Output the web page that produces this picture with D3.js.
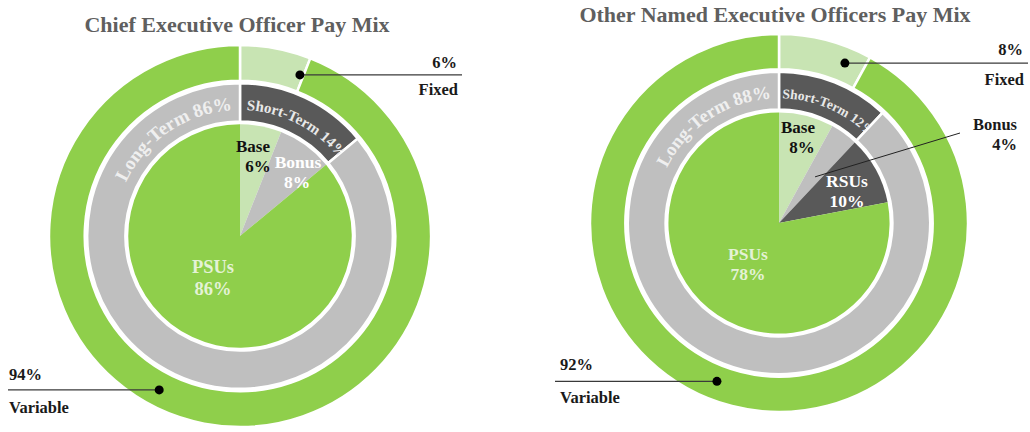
<!DOCTYPE html>
<html>
<head>
<meta charset="utf-8">
<script src="https://cdn.jsdelivr.net/npm/d3@7"></script>
<style>
  html, body { margin: 0; padding: 0; background: #ffffff; }
  svg { display: block; }
</style>
</head>
<body>
<svg id="chart" width="1030" height="432" font-family="'Liberation Serif', 'Times New Roman', 'DejaVu Serif', serif" font-weight="bold"></svg>
<script>
// ---------- DATA ----------
const chartTitles = ["Chief Executive Officer Pay Mix", "Other Named Executive Officers Pay Mix"];

const outerCategories = ["Fixed", "Variable"];
const ceoOuterValues = [6, 94];
const neoOuterValues = [8, 92];

const midCategories = ["Short-Term", "Long-Term"];
const ceoMidValues = [14, 86];
const neoMidValues = [12, 88];

const ceoInnerCategories = ["Base", "Bonus", "PSUs"];
const ceoInnerValues = [6, 8, 86];
const neoInnerCategories = ["Base", "Bonus", "RSUs", "PSUs"];
const neoInnerValues = [8, 4, 10, 78];

// ---------- STYLE ----------
const FONT = "'Liberation Serif', 'Times New Roman', 'DejaVu Serif', serif";
const colors = {
  "Fixed": "#c8e4b3", "Variable": "#8fcf4b",
  "Short-Term": "#595959", "Long-Term": "#bfbfbf",
  "Base": "#c8e4b3", "Bonus": "#bfbfbf", "RSUs": "#595959", "PSUs": "#8fcf4b"
};
const innerLabelColor = { "Base": "#111111", "Bonus": "#ffffff", "RSUs": "#ffffff", "PSUs": "#e4f2d6" };

const svg = d3.select("#chart");
const pie = d3.pie().sort(null).value(d => d);
const fmt = v => v + "%";
const rad = a => a * Math.PI / 180;

function polar(cx, cy, r, deg) {
  return [cx + r * Math.sin(rad(deg)), cy - r * Math.cos(rad(deg))];
}
function txt(sel) {
  return sel.append("text").attr("font-family", FONT).attr("font-weight", "bold");
}

const layouts = [
  {
    cx: 240, cy: 236, R: 191, titleX: 237, titleY: 32,
    outer: ceoOuterValues, mid: ceoMidValues,
    innerCats: ceoInnerCategories, inner: ceoInnerValues,
    midFont: [15, 19], midStart: 3,
    innerLabelPos: { "Base": [[13, -84], [18, -64]], "Bonus": [[58, -68], [57, -48]], "PSUs": [[-27, 37], [-27, 59]] },
    innerFont: { "Base": 17, "Bonus": 17.5, "PSUs": 18.5 },
    innerLabelSkip: [],
    fixed: { dot: [20.4, 0.9], lineEnd: 462, textX: 457, pctY: 68, nameY: 95 },
    variable: { dot: [207.7, 0.91], lineStart: 8, textX: 9, pctY: 380, nameY: 413 }
  },
  {
    cx: 779, cy: 223, R: 189, titleX: 775, titleY: 22,
    outer: neoOuterValues, mid: neoMidValues,
    innerCats: neoInnerCategories, inner: neoInnerValues,
    midFont: [13.5, 18.5], midStart: 1.5,
    innerLabelPos: { "Base": [[19, -90], [23, -70]], "RSUs": [[68, -36], [68, -16]], "PSUs": [[-31, 37], [-31, 57]] },
    innerFont: { "Base": 17, "RSUs": 17.5, "PSUs": 17.5 },
    innerLabelSkip: ["Bonus"],
    fixed: { dot: [22.4, 0.915], lineEnd: 1028, textX: 1023, pctY: 55, nameY: 85 },
    variable: { dot: [201.4, 0.9], lineStart: 555, textX: 560, pctY: 370, nameY: 403 },
    callout: { cat: "Bonus", dot: [38, 0.31], from: [960, 133], textX: 1017, nameY: 130, pctY: 150 }
  }
];

layouts.forEach((L, ci) => {
  const g = svg.append("g");
  const cg = g.append("g").attr("transform", `translate(${L.cx},${L.cy})`);
  const R = L.R;
  const rOuterIn = R * 0.813, rMidOut = R * 0.80, rMidIn = R * 0.60, rInner = R * 0.585;

  // title
  txt(g).attr("x", L.titleX).attr("y", L.titleY)
    .attr("text-anchor", "middle").attr("font-size", 22).attr("fill", "#5f5f5f")
    .text(chartTitles[ci]);

  // outer ring
  const outerArc = d3.arc().innerRadius(rOuterIn).outerRadius(R);
  const outerPie = pie(L.outer);
  cg.selectAll("path.outer").data(outerPie).enter().append("path")
    .attr("class", "outer").attr("d", outerArc)
    .attr("fill", (d, i) => colors[outerCategories[i]])
    .attr("stroke", "#ffffff").attr("stroke-width", 2.5);

  // middle ring
  const midArc = d3.arc().innerRadius(rMidIn).outerRadius(rMidOut);
  const midPie = pie(L.mid);
  cg.selectAll("path.mid").data(midPie).enter().append("path")
    .attr("class", "mid").attr("d", midArc)
    .attr("fill", (d, i) => colors[midCategories[i]])
    .attr("stroke", "#ffffff").attr("stroke-width", 2.5);

  // inner pie
  const innerArc = d3.arc().innerRadius(0).outerRadius(rInner);
  const innerPie = pie(L.inner);
  cg.selectAll("path.inner").data(innerPie).enter().append("path")
    .attr("class", "inner").attr("d", innerArc)
    .attr("fill", (d, i) => colors[L.innerCats[i]]);

  // curved mid-ring labels, clipped to their segments
  const rText = rMidIn + (rMidOut - rMidIn) * 0.3;
  midPie.forEach((d, i) => {
    const clipId = `clip-${ci}-${i}`;
    cg.append("clipPath").attr("id", clipId).append("path").attr("d", midArc(d));
    const pathId = `tp-${ci}-${i}`;
    let a0, a1, anchor, offset;
    if (i === 0) { a0 = d.startAngle + rad(L.midStart); a1 = d.startAngle + rad(90); anchor = "start"; offset = "0%"; }
    else { a0 = d.endAngle - rad(90); a1 = d.endAngle - rad(3.5); anchor = "end"; offset = "100%"; }
    const p0 = [rText * Math.sin(a0), -rText * Math.cos(a0)];
    const p1 = [rText * Math.sin(a1), -rText * Math.cos(a1)];
    cg.append("path").attr("id", pathId).attr("fill", "none")
      .attr("d", `M${p0[0]},${p0[1]} A${rText},${rText} 0 0 1 ${p1[0]},${p1[1]}`);
    txt(cg.append("g").attr("clip-path", `url(#${clipId})`))
      .attr("font-size", L.midFont[i])
      .attr("fill", i === 0 ? "#e8e8e8" : "#efefef")
      .append("textPath").attr("href", "#" + pathId)
      .attr("startOffset", offset).attr("text-anchor", anchor)
      .text(`${midCategories[i]} ${fmt(L.mid[i])}`);
  });

  // inner labels
  L.innerCats.forEach((cat, i) => {
    if (L.innerLabelSkip.includes(cat)) return;
    const pos = L.innerLabelPos[cat];
    const t = txt(cg).attr("text-anchor", "middle")
      .attr("font-size", L.innerFont[cat]).attr("fill", innerLabelColor[cat]);
    t.append("tspan").attr("x", pos[0][0]).attr("y", pos[0][1]).text(cat);
    t.append("tspan").attr("x", pos[1][0]).attr("y", pos[1][1]).text(fmt(L.inner[i]));
  });

  const lineColor = "#3a3a3a";
  // Fixed callout
  {
    const f = L.fixed;
    const [dx, dy] = polar(L.cx, L.cy, R * f.dot[1], f.dot[0]);
    g.append("line").attr("x1", dx).attr("y1", dy).attr("x2", f.lineEnd).attr("y2", dy)
      .attr("stroke", lineColor).attr("stroke-width", 1.3);
    g.append("circle").attr("cx", dx).attr("cy", dy).attr("r", 4.5).attr("fill", "#000");
    txt(g).attr("x", f.textX).attr("y", f.pctY).attr("text-anchor", "end")
      .attr("font-size", 16.5).attr("fill", "#1a1a1a").text(fmt(L.outer[0]));
    txt(g).attr("x", f.textX + 1).attr("y", f.nameY).attr("text-anchor", "end")
      .attr("font-size", 16.5).attr("fill", "#1a1a1a").text(outerCategories[0]);
  }
  // Variable callout
  {
    const v = L.variable;
    const [dx, dy] = polar(L.cx, L.cy, R * v.dot[1], v.dot[0]);
    g.append("line").attr("x1", v.lineStart).attr("y1", dy).attr("x2", dx).attr("y2", dy)
      .attr("stroke", lineColor).attr("stroke-width", 1.3);
    g.append("circle").attr("cx", dx).attr("cy", dy).attr("r", 4.5).attr("fill", "#000");
    txt(g).attr("x", v.textX).attr("y", v.pctY).attr("text-anchor", "start")
      .attr("font-size", 16.5).attr("fill", "#1a1a1a").text(fmt(L.outer[1]));
    txt(g).attr("x", v.textX).attr("y", v.nameY).attr("text-anchor", "start")
      .attr("font-size", 16.5).attr("fill", "#1a1a1a").text(outerCategories[1]);
  }
  // Bonus callout (NEO)
  if (L.callout) {
    const c = L.callout;
    const idx = L.innerCats.indexOf(c.cat);
    const [dx, dy] = polar(L.cx, L.cy, R * c.dot[1], c.dot[0]);
    g.append("line").attr("x1", c.from[0]).attr("y1", c.from[1]).attr("x2", dx).attr("y2", dy)
      .attr("stroke", "#222").attr("stroke-width", 1);
    txt(g).attr("x", c.textX).attr("y", c.nameY).attr("text-anchor", "end")
      .attr("font-size", 16.5).attr("fill", "#1a1a1a").text(c.cat);
    txt(g).attr("x", c.textX).attr("y", c.pctY).attr("text-anchor", "end")
      .attr("font-size", 16.5).attr("fill", "#1a1a1a").text(fmt(L.inner[idx]));
  }
});
</script>
</body>
</html>
